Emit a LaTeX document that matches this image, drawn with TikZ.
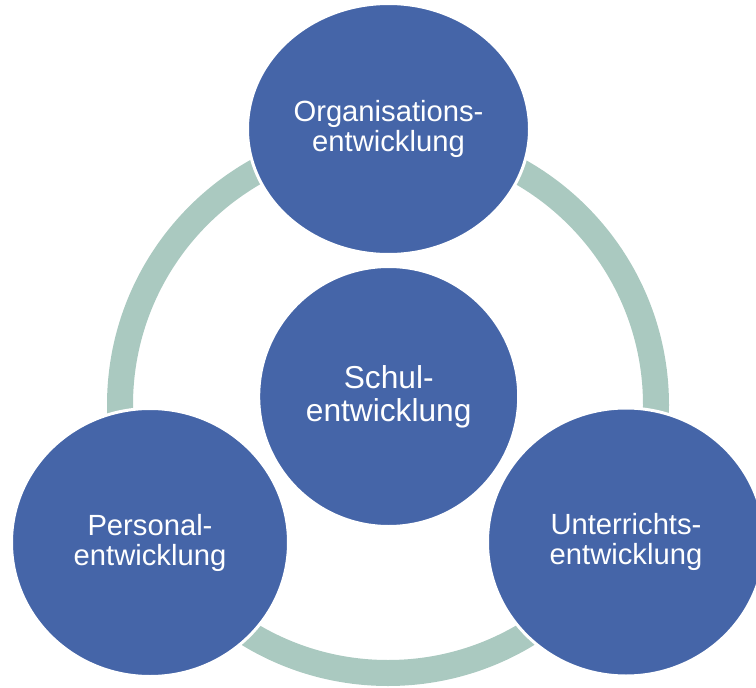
\documentclass[tikz,border=0pt]{standalone}
\usepackage{fontspec}
\setmainfont{Liberation Sans}
\usepackage{tikz}
\usetikzlibrary{shapes.geometric}
\definecolor{circleblue}{RGB}{69,101,168}
\definecolor{ringgreen}{RGB}{170,201,192}
\tikzset
{
    areanode/.style = {ellipse, draw=white, line width=3pt, fill=circleblue, text=white, align=center, inner sep=0pt, font=\fontsize{29.2}{30}\selectfont},
    corenode/.style = {areanode, font=\fontsize{31.7}{33}\selectfont},
    ringline/.style = {draw=ringgreen, line width=26pt}
}

\begin{document}
\begin{tikzpicture}[x=1pt, y=-1pt]
	\useasboundingbox (0,0) rectangle (756,688);
	\coordinate (mid) at (388,405);
	\draw[ringline] (mid) circle (268pt);
	\node[areanode, minimum width=282pt, minimum height=251pt] (orga) at (388.5,129) {Organisations-\\entwicklung};
	\node[corenode, minimum width=260pt, minimum height=260pt] (schul) at (388.7,396.5) {Schul-\\entwicklung};
	\node[areanode, minimum width=277pt, minimum height=268pt] (personal) at (150,542.5) {Personal-\\entwicklung};
	\node[areanode, minimum width=277pt, minimum height=268pt] (unterricht) at (626,542) {Unterrichts-\\entwicklung};
\end{tikzpicture}
\end{document}
